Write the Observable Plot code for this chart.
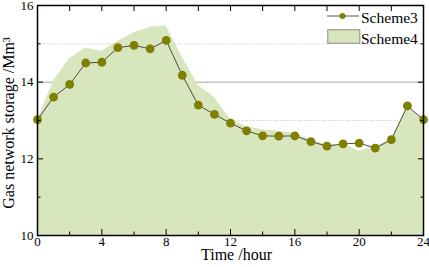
<!DOCTYPE html>
<html><head><meta charset="utf-8">
<script src="https://cdn.jsdelivr.net/npm/d3@7"></script>
<script src="https://cdn.jsdelivr.net/npm/@observablehq/plot@0.6"></script>
<style>
body{margin:0;background:#fff;}
#wrap{position:relative;width:429px;height:267px;font-family:"Liberation Serif",serif;}
#wrap svg{display:block;}
.legtxt{position:absolute;font-size:15.5px;color:#000;line-height:1;white-space:nowrap;}
.legsw{position:absolute;}
#ylab{position:absolute;left:8.5px;top:123px;font-size:16px;line-height:1;color:#000;white-space:nowrap;transform:translate(-50%,-50%) rotate(-90deg);}
</style></head><body><div id="wrap"></div>
<script>
const hours = [0,1,2,3,4,5,6,7,8,9,10,11,12,13,14,15,16,17,18,19,20,21,22,23,24];
const scheme3 = [13.02,13.61,13.94,14.50,14.52,14.90,14.96,14.87,15.09,14.18,13.40,13.16,12.93,12.73,12.60,12.59,12.60,12.45,12.33,12.39,12.41,12.28,12.50,13.38,13.02];
const scheme4 = [13.02,14.04,14.61,14.89,14.80,15.07,15.29,15.43,15.47,14.65,13.91,13.60,13.03,12.84,12.76,12.72,12.67,12.50,12.37,12.38,12.20,12.32,12.50,13.38,13.02];
const seriesNames = ["Scheme3","Scheme4"];
const xMajor = [0,4,8,12,16,20,24];
const xMinor = [2,6,10,14,18,22];
const yMajor = [10,12,14,16];
const yMinor = [11,13,15];
const xLabel = "Time /hour";
const yLabel = "Gas network storage /Mm³";

const data = hours.map((h,i)=>({h, s3: scheme3[i], s4: scheme4[i]}));
const olive = "#808000", green = "#d8e6be";

const chart = Plot.plot({
  width: 429, height: 267,
  marginLeft: 37, marginRight: 6, marginTop: 5, marginBottom: 32,
  style: {fontFamily: "'Liberation Serif', serif", fontSize: "13px", color: "#000", background: "#fff"},
  x: {domain: [0, 24]},
  y: {domain: [10, 16]},
  marks: [
    Plot.gridY(yMinor, {stroke: "#d0d0d0", strokeOpacity: 1, strokeDasharray: "1.5,1.5"}),
    Plot.gridY(yMajor, {stroke: "#a8a8a8", strokeOpacity: 1}),
    Plot.areaY(data, {x: "h", y: "s4", fill: green, clip: true}),
    Plot.line(data, {x: "h", y: "s3", stroke: "#4a4a4a", strokeWidth: 1}),
    Plot.dot(data, {x: "h", y: "s3", r: 4.4, fill: olive, stroke: "none"}),
    // tick labels
    Plot.axisX({ticks: xMajor, tickSize: 0, tickPadding: 1, tickFormat: d => String(d), label: null}),
    Plot.axisY({ticks: yMajor, tickSize: 0, tickPadding: 4, tickFormat: d => String(d), label: null}),
    // inward tick marks
    Plot.axisX({anchor: "bottom", ticks: xMajor, tickSize: -6, text: null, label: null}),
    Plot.axisX({anchor: "bottom", ticks: xMinor, tickSize: -3.5, text: null, label: null}),
    Plot.axisX({anchor: "top", ticks: xMajor, tickSize: -5, text: null, label: null}),
    Plot.axisX({anchor: "top", ticks: xMinor, tickSize: -5, text: null, label: null}),
    Plot.axisY({anchor: "left", ticks: yMajor, tickSize: -6, text: null, label: null}),
    Plot.axisY({anchor: "left", ticks: yMinor, tickSize: -3.5, text: null, label: null}),
    Plot.axisY({anchor: "right", ticks: yMajor, tickSize: -6, text: null, label: null}),
    Plot.axisY({anchor: "right", ticks: yMinor, tickSize: -3.5, text: null, label: null}),
    Plot.frame({stroke: "#000", strokeWidth: 1.5}),
    Plot.text([xLabel], {frameAnchor: "bottom", dx: 6, dy: 24.5, lineAnchor: "bottom", fontSize: 16, fill: "#000"})
  ]
});
const wrap = document.getElementById("wrap");
wrap.appendChild(chart);

// y-axis title (rotated)
const yl = document.createElement("div");
yl.id = "ylab"; yl.textContent = yLabel;
wrap.appendChild(yl);

// legend overlay
const ns = "http://www.w3.org/2000/svg";
function sw(left, top, w, h, inner){
  const s = document.createElementNS(ns, "svg");
  s.setAttribute("class","legsw");
  s.setAttribute("width", w); s.setAttribute("height", h);
  s.style.left = left + "px"; s.style.top = top + "px";
  s.innerHTML = inner;
  wrap.appendChild(s);
}
sw(326, 10, 34, 12, `<line x1="1" x2="33" y1="6" y2="6" stroke="#7a7a7a" stroke-width="1.3"/><circle cx="16.5" cy="6" r="3" fill="${olive}"/>`);
sw(327, 29, 34, 16, `<rect x="0.75" y="0.75" width="32" height="13.5" fill="${green}" stroke="#9a9a9a" stroke-width="1.2"/>`);
function txt(s, left, top){
  const d = document.createElement("div");
  d.className = "legtxt"; d.textContent = s;
  d.style.left = left + "px"; d.style.top = top + "px";
  wrap.appendChild(d);
}
txt(seriesNames[0], 361, 10);
txt(seriesNames[1], 361, 31);
</script>
</body></html>
